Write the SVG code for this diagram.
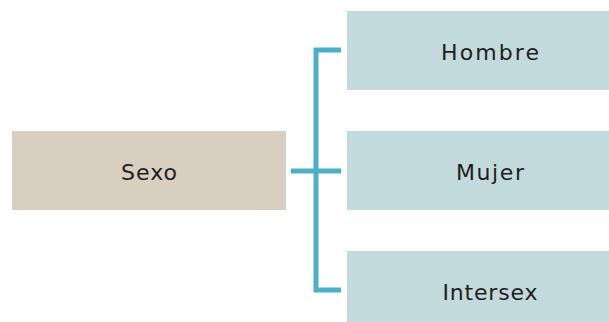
<svg xmlns="http://www.w3.org/2000/svg" width="609" height="322" viewBox="0 0 609 322">
<style>
.lbl{font-family:"DejaVu Sans","Open Sans",sans-serif;font-size:22px;fill:#1e1e1e;text-anchor:middle}
.leaf{fill:#c2dadb}
.conn{fill:none;stroke:#4aafc7;stroke-width:5}
</style>
<rect width="609" height="322" fill="#ffffff"/>
<g id="connectors">
<path class="conn" d="M341,50 H316 V290 H341"/>
<path class="conn" d="M291,171 H341"/>
</g>
<g id="sexo">
<rect x="12" y="131" width="274" height="79" fill="#d8cfc1"/>
<text class="lbl" x="149" y="180" textLength="56" lengthAdjust="spacing">Sexo</text>
</g>
<g id="hombre">
<rect class="leaf" x="347" y="11" width="262" height="79"/>
<text class="lbl" x="490" y="60" textLength="98" lengthAdjust="spacing">Hombre</text>
</g>
<g id="mujer">
<rect class="leaf" x="347" y="131" width="262" height="79"/>
<text class="lbl" x="490" y="180" textLength="68" lengthAdjust="spacing">Mujer</text>
</g>
<g id="intersex">
<rect class="leaf" x="347" y="251" width="262" height="71"/>
<text class="lbl" x="490" y="300" textLength="95" lengthAdjust="spacing">Intersex</text>
</g>
</svg>
